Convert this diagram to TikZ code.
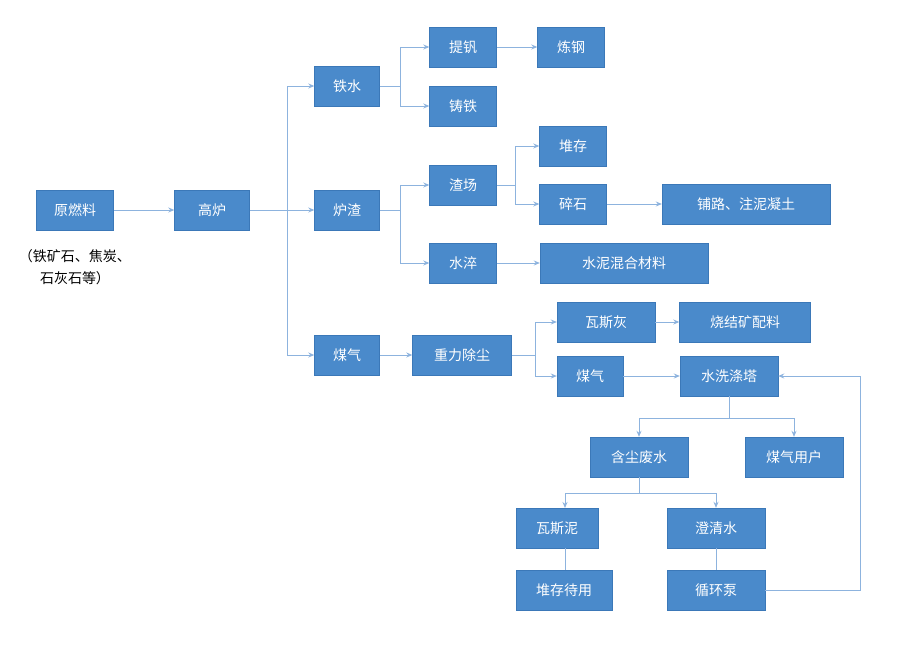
\documentclass[tikz,border=0pt]{standalone}
\usepackage{fontspec}
\setmainfont{Noto Sans CJK SC}
\usetikzlibrary{arrows.meta}
\definecolor{boxfill}{HTML}{4A8ACB}
\definecolor{boxline}{HTML}{3B78B8}
\definecolor{lnk}{HTML}{8DB3DE}
\begin{document}
\begin{tikzpicture}[x=1pt,y=-1pt,
  bx/.style={draw=boxline,fill=boxfill,text=white,minimum height=40pt,inner sep=0pt,font=\fontsize{14}{14}\selectfont},
  ln/.style={draw=lnk,line width=1pt},
  ar/.style={ln,-{Stealth[length=6pt,width=5pt]}}]
\useasboundingbox[fill=white] (0,0) rectangle (906,654);
\node[bx,minimum width=77pt] (a) at (75,210) {原燃料};
\node[bx,minimum width=75pt] (b) at (212,210) {高炉};
\node[bx,minimum width=65pt] (c1) at (347,86) {铁水};
\node[bx,minimum width=65pt] (c2) at (347,210) {炉渣};
\node[bx,minimum width=65pt] (c3) at (347,355) {煤气};
\node[bx,minimum width=67pt] (d1) at (463,47) {提钒};
\node[bx,minimum width=67pt] (d2) at (571,47) {炼钢};
\node[bx,minimum width=67pt] (d3) at (463,106) {铸铁};
\node[bx,minimum width=67pt] (e1) at (463,185) {渣场};
\node[bx,minimum width=67pt] (e2) at (573,146) {堆存};
\node[bx,minimum width=67pt] (e3) at (573,204) {碎石};
\node[bx,minimum width=168pt] (e4) at (746,204) {铺路、注泥凝土};
\node[bx,minimum width=67pt] (f1) at (463,263) {水淬};
\node[bx,minimum width=168pt] (f2) at (624,263) {水泥混合材料};
\node[bx,minimum width=99pt] (g1) at (462,355) {重力除尘};
\node[bx,minimum width=98pt] (g2) at (606,322) {瓦斯灰};
\node[bx,minimum width=131pt] (g3) at (745,322) {烧结矿配料};
\node[bx,minimum width=66pt] (h1) at (590,376) {煤气};
\node[bx,minimum width=98pt] (h2) at (729,376) {水洗涤塔};
\node[bx,minimum width=98pt] (i1) at (639,457) {含尘废水};
\node[bx,minimum width=98pt] (i2) at (794,457) {煤气用户};
\node[bx,minimum width=82pt] (j1) at (557,528) {瓦斯泥};
\node[bx,minimum width=98pt] (j2) at (716,528) {澄清水};
\node[bx,minimum width=96pt] (k1) at (564,590) {堆存待用};
\node[bx,minimum width=98pt] (k2) at (716,590) {循环泵};
\node[font=\fontsize{14}{14}\selectfont] (t1) at (75,256) {（铁矿石、焦炭、};
\node[font=\fontsize{14}{14}\selectfont] (t2) at (75,278) {石灰石等）};
\draw[ar] (a) -- (b);
\draw[ar] (b) -- (c2);
\draw[ln] (287,86) -- (287,355);
\draw[ar] (287,86) -- (c1);
\draw[ar] (287,355) -- (c3);
\draw[ln] (c1) -- (400,86);
\draw[ln] (400,47) -- (400,106);
\draw[ar] (400,47) -- (d1);
\draw[ar] (400,106) -- (d3);
\draw[ar] (d1) -- (d2);
\draw[ln] (c2) -- (400,210);
\draw[ln] (400,185) -- (400,263);
\draw[ar] (400,185) -- (e1);
\draw[ar] (400,263) -- (f1);
\draw[ln] (e1) -- (515,185);
\draw[ln] (515,146) -- (515,204);
\draw[ar] (515,146) -- (e2);
\draw[ar] (515,204) -- (e3);
\draw[ar] (e3) -- (e4);
\draw[ar] (f1) -- (f2);
\draw[ar] (c3) -- (g1);
\draw[ln] (g1) -- (535,355);
\draw[ln] (535,322) -- (535,376);
\draw[ar] (535,322) -- (g2);
\draw[ar] (535,376) -- (h1);
\draw[ar] (g2) -- (g3);
\draw[ar] (h1) -- (h2);
\draw[ln] (h2) -- (729,418);
\draw[ln] (639,418) -- (794,418);
\draw[ar] (639,418) -- (i1);
\draw[ar] (794,418) -- (i2);
\draw[ln] (i1) -- (639,493);
\draw[ln] (565,493) -- (716,493);
\draw[ar] (565,493) -- (565,508);
\draw[ar] (716,493) -- (j2);
\draw[ln] (j1.south -| 565,0) -- (565,570);
\draw[ln] (j2) -- (k2);
\draw[ar] (k2.east) -- (860,590) -- (860,376) -- (h2.east);
\end{tikzpicture}
\end{document}
